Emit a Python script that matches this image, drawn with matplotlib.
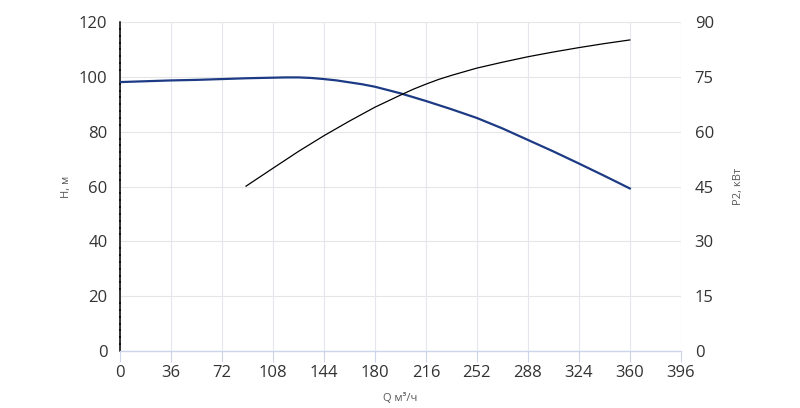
import numpy as np
import matplotlib.pyplot as plt
from matplotlib.ticker import MultipleLocator

plt.rcParams['font.family'] = ['Open Sans', 'DejaVu Sans']

# head curve H(Q)
q_h = [0, 18, 36, 54, 72, 90, 108, 117, 126, 135, 144, 153, 162, 171, 180, 198, 216, 234, 252, 270, 288, 306, 324, 342, 360]
h = [98.1, 98.4, 98.7, 98.9, 99.2, 99.5, 99.7, 99.8, 99.8, 99.6, 99.2, 98.7, 98.0, 97.3, 96.4, 94.0, 91.2, 88.2, 85.0, 81.2, 77.0, 72.8, 68.4, 63.9, 59.3]

# power curve P2(Q)
q_p = [89, 108, 126, 144, 162, 180, 198, 207, 216, 225, 234, 252, 270, 288, 306, 324, 342, 360]
p2 = [45.1, 50.0, 54.6, 58.9, 62.9, 66.7, 70.0, 71.6, 73.0, 74.3, 75.4, 77.4, 79.0, 80.5, 81.8, 83.0, 84.1, 85.1]

x_ticks = [0, 36, 72, 108, 144, 180, 216, 252, 288, 324, 360, 396]
h_ticks = [0, 20, 40, 60, 80, 100, 120]
p_ticks = [0, 15, 30, 45, 60, 75, 90]

fig = plt.figure(figsize=(8, 4.08), dpi=100)
ax = fig.add_axes([0.15, 0.1397, 0.701, 0.8063])
ax2 = ax.twinx()

ax.plot(q_h, h, color='#1d3a84', lw=1.6, zorder=3)
ax2.plot(q_p, p2, color='black', lw=0.9, zorder=3)

ax.set_xlim(0, 396)
ax.set_ylim(0, 120)
ax2.set_ylim(0, 90)
ax.set_xticks(x_ticks)
ax.set_yticks(h_ticks)
ax2.set_yticks(p_ticks)
ax.yaxis.set_minor_locator(MultipleLocator(2.5))

ax.grid(True, axis='x', color='#e3e6ee', lw=0.8)
ax.grid(True, axis='y', color='#e6e6e6', lw=0.8)
ax.set_axisbelow(True)

for a in (ax, ax2):
    for s in a.spines.values():
        s.set_visible(False)
ax.spines['left'].set_visible(True)
ax.spines['left'].set_color('black')
ax.spines['left'].set_linewidth(1.1)
ax.spines['bottom'].set_visible(True)
ax.spines['bottom'].set_color('#ccd6eb')
ax.spines['bottom'].set_linewidth(1.0)

ax.tick_params(axis='x', colors='#ccd6eb', length=8, width=0.8, labelcolor='#333333', labelsize=12, pad=2)
ax.tick_params(axis='y', which='major', length=0, labelcolor='#333333', labelsize=12, pad=9)
ax.tick_params(axis='y', which='minor', length=2, width=1.4, direction='inout', color='#444444')
ax2.tick_params(axis='y', length=0, labelcolor='#333333', labelsize=12, pad=10)

ax.set_xlabel('Q м³/ч', fontsize=8, color='#555555', labelpad=9)
ax.set_ylabel('H, м', fontsize=8, color='#555555', labelpad=5)
ax2.set_ylabel('P2, кВт', fontsize=8, color='#555555', labelpad=14)

fig.savefig('out.png', dpi=100)
